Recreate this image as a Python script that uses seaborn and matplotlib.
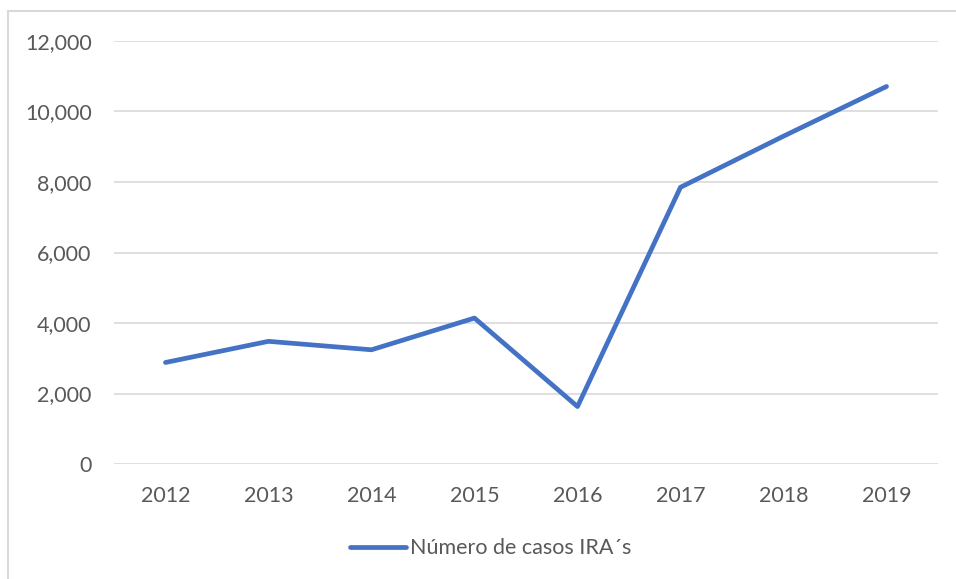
import matplotlib
matplotlib.use("Agg")
import matplotlib.pyplot as plt
import seaborn as sns
import pandas as pd
from matplotlib.lines import Line2D
from matplotlib.ticker import FuncFormatter

# values
years = ["2012", "2013", "2014", "2015", "2016", "2017", "2018", "2019"]
casos = [2880, 3480, 3240, 4140, 1630, 7850, 9300, 10710]
serie = "Número de casos IRA´s"

df = pd.DataFrame({"year": years, "casos": casos})

sns.set_theme(style="white")
plt.rcParams["font.family"] = ["Lato", "DejaVu Sans"]

fig = plt.figure(figsize=(9.56, 5.79), dpi=100)
ax = fig.add_axes([0.1192, 0.1986, 0.862, 0.7306])

x = list(range(len(years)))
sns.lineplot(x=x, y=df["casos"], ax=ax, color="#4472C4", linewidth=3.4,
             solid_capstyle="round", solid_joinstyle="round", label=serie)

ax.set_xlim(-0.5, len(years) - 0.5)
ax.set_ylim(0, 12000)
ax.set_xticks(x)
ax.set_xticklabels(years)
ax.set_yticks(range(0, 12001, 2000))
ax.yaxis.set_major_formatter(FuncFormatter(lambda v, p: f"{int(v):,}"))
ax.grid(axis="y", color="#D9D9D9", linewidth=1.2)
ax.set_axisbelow(True)
for s in ax.spines.values():
    s.set_visible(False)
ax.tick_params(axis="both", length=0, labelsize=15.5, colors="#595959")
ax.tick_params(axis="y", pad=16)
ax.tick_params(axis="x", pad=16)
ax.set_xlabel("")
ax.set_ylabel("")

leg = ax.legend(loc="upper center", bbox_to_anchor=(0.4575, -0.13), frameon=False,
                fontsize=15.5, handlelength=2.6, handletextpad=0.2)
for t in leg.get_texts():
    t.set_color("#595959")

# chart area border (only top/left visible in the crop)
fig.add_artist(Line2D([8 / 956, 8 / 956], [0, 1 - 11 / 579], transform=fig.transFigure,
                      color="#D9D9D9", linewidth=1.5))
fig.add_artist(Line2D([8 / 956, 1], [1 - 11 / 579, 1 - 11 / 579], transform=fig.transFigure,
                      color="#D9D9D9", linewidth=1.5))

fig.savefig("out.png", dpi=100)
